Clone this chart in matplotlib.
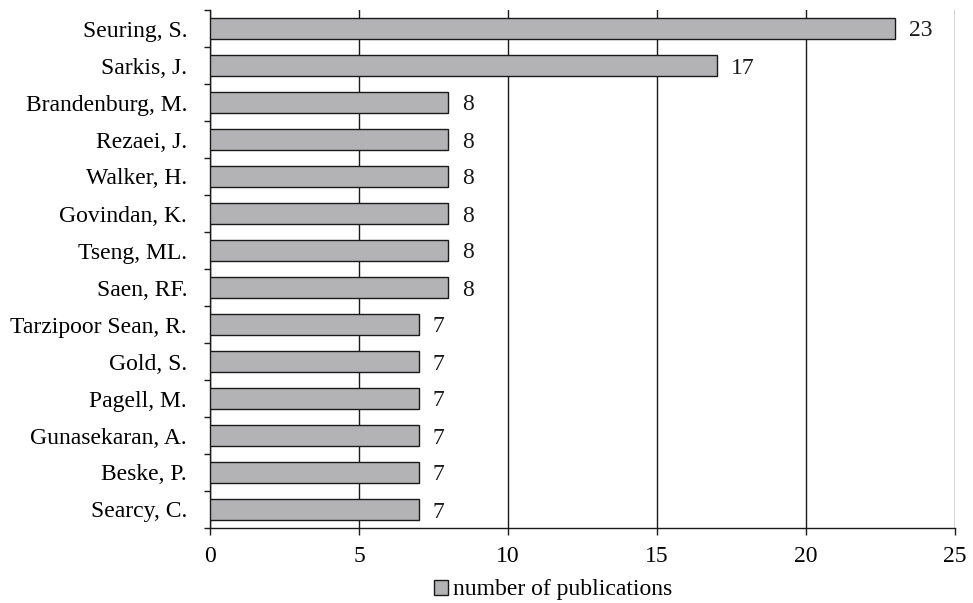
import matplotlib
matplotlib.use("Agg")
import matplotlib.pyplot as plt
import numpy as np
from matplotlib.patches import Patch

authors = ["Seuring, S.", "Sarkis, J.", "Brandenburg, M.", "Rezaei, J.", "Walker, H.",
           "Govindan, K.", "Tseng, ML.", "Saen, RF.", "Tarzipoor Sean, R.", "Gold, S.",
           "Pagell, M.", "Gunasekaran, A.", "Beske, P.", "Searcy, C."]
publications = [23, 17, 8, 8, 8, 8, 8, 8, 7, 7, 7, 7, 7, 7]
x_ticks = [0, 5, 10, 15, 20, 25]
series_name = "number of publications"

plt.rcParams['font.family'] = ['Liberation Serif', 'DejaVu Serif']
FS = 17

fig = plt.figure(figsize=(9.73, 6.03), dpi=100)
ax = fig.add_axes([210/973, 1-528/603, (955-210)/973, (528-10)/603])

n = len(authors)
y = np.arange(n)
bar_color = '#b3b3b5'
ax.barh(y, publications, height=0.57, color=bar_color, edgecolor='#1a1a1a', linewidth=1.0, zorder=3)

ax.set_ylim(n - 0.5, -0.5)
ax.set_xlim(0, 25)
ax.set_xticks(x_ticks)
ax.set_xticklabels([str(t) for t in x_ticks])

ax.set_yticks(y)
ax.set_yticklabels(authors)
ax.set_yticks(np.arange(n + 1) - 0.5, minor=True)
ax.tick_params(axis='y', which='major', length=0, pad=16.5, labelsize=FS)
ax.tick_params(axis='y', which='minor', length=4, width=1.0, direction='out', color='#1a1a1a')
ax.tick_params(axis='x', which='major', length=5, width=1.0, pad=8, labelsize=FS, color='#1a1a1a')

for s in ['top', 'right']:
    ax.spines[s].set_visible(False)
for s in ['left', 'bottom']:
    ax.spines[s].set_color('#1a1a1a')
    ax.spines[s].set_linewidth(1.0)

ax.grid(axis='x', color='#1a1a1a', linewidth=1.0, zorder=0)
ax.set_axisbelow(True)

for yi, v in zip(y, publications):
    ax.annotate(str(v), xy=(v, yi), xytext=(10, 0), textcoords='offset points',
                va='center_baseline', ha='left', fontsize=FS, color='#1a1a1a')

handle = Patch(facecolor=bar_color, edgecolor='#1a1a1a', linewidth=1.0)
fig.legend([handle], [series_name], loc='center', bbox_to_anchor=(553/973, 1-590/603),
           frameon=False, fontsize=FS, handlelength=0.6, handleheight=0.6,
           handletextpad=0.2, borderpad=0)

fig.savefig("out.png", dpi=100)
